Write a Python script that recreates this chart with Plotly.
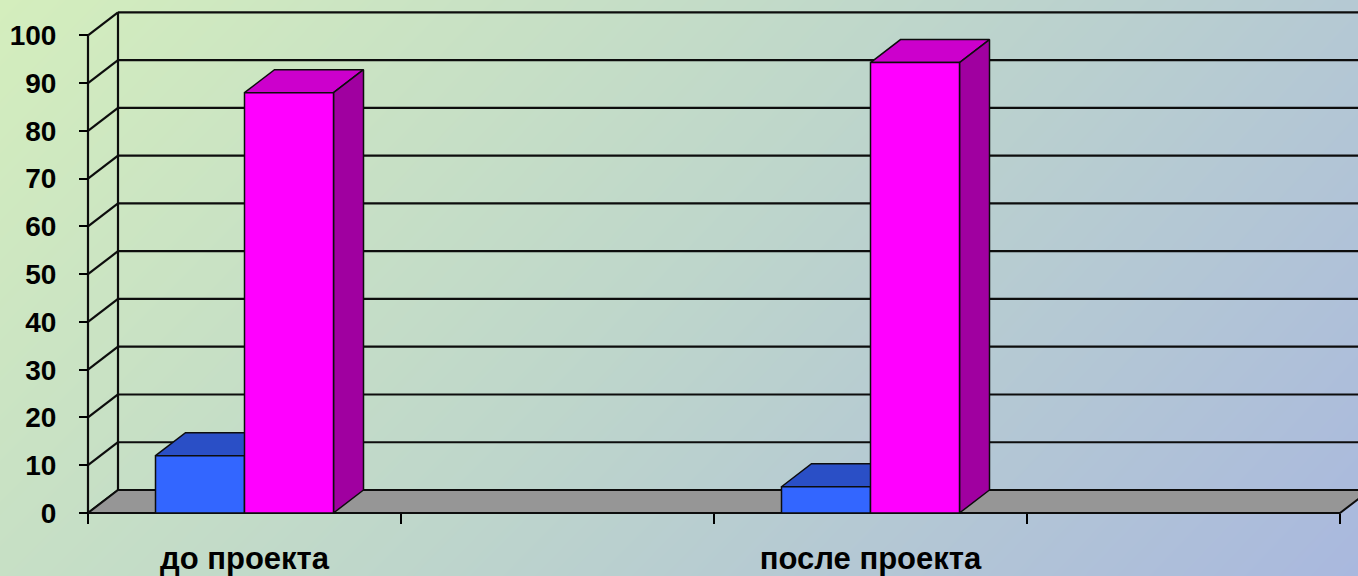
import plotly.graph_objects as go

# ---- data ----
categories = ["до проекта", "", "после проекта", ""]
series_blue = [12, None, 5.5, None]
series_magenta = [88, None, 94.3, None]
y_ticks = [0, 10, 20, 30, 40, 50, 60, 70, 80, 90, 100]

# ---- layout constants (pixels -> data units) ----
W, H = 1358, 576
PX_X = 313.0          # pixels per category slot
PX_Y = 4.776          # pixels per value unit
X0_PX, Y0_PX = 88, 513
DX = 30 / PX_X        # depth offset (x) in category units
DY = 23 / PX_Y        # depth offset (y) in value units
BAR_W = 89 / PX_X     # bar width in category units

dom_left_px, dom_bottom_px = 78, 530
x_range = [(dom_left_px - X0_PX) / PX_X, (W - X0_PX) / PX_X]
y_range = [(Y0_PX - dom_bottom_px) / PX_Y, Y0_PX / PX_Y]

n = len(categories)
ymax = max(y_ticks)

LINE = "#0d0d0d"
fig = go.Figure()

# ---- background gradient (on x/y, full paper) ----
fig.add_trace(go.Heatmap(
    x=[0, 1], y=[0, 1], z=[[0.3, 1.0], [0.0, 0.72]],
    colorscale=[[0, "#d4eebd"], [0.5, "#bed6cb"], [1, "#a9b8de"]],
    zsmooth="best", showscale=False, hoverinfo="skip",
    xaxis="x", yaxis="y",
))


def poly(xs, ys, fill, lw=1.5, color=LINE):
    fig.add_trace(go.Scatter(
        x=xs, y=ys, mode="lines", fill="toself" if fill else None,
        fillcolor=fill, line=dict(color=color, width=lw),
        hoverinfo="skip", showlegend=False, xaxis="x2", yaxis="y2",
    ))


def line(xs, ys, lw=2.2):
    fig.add_trace(go.Scatter(
        x=xs, y=ys, mode="lines", line=dict(color=LINE, width=lw),
        hoverinfo="skip", showlegend=False, xaxis="x2", yaxis="y2",
    ))


# back wall gridlines
for v in y_ticks:
    line([DX, n + DX], [v + DY, v + DY])
# back wall left edge
line([DX, DX], [DY, ymax + DY])
# left side wall: front vertical + diagonals
line([0, 0], [0, ymax])
for v in y_ticks:
    line([0, DX], [v, v + DY])

# floor
poly([0, n, n + DX, DX, 0], [0, 0, DY, DY, 0], "#969696", lw=2)

# bars
series = [
    (series_blue, "#3366ff", "#2a4fc6", "#1f3c9e"),
    (series_magenta, "#ff00ff", "#cc00cc", "#a000a0"),
]
for i in range(n):
    center = i + 0.5
    for k, (vals, front, top, side) in enumerate(series):
        v = vals[i]
        if v is None:
            continue
        x0 = center - BAR_W + k * BAR_W
        x1 = x0 + BAR_W
        # top face
        poly([x0, x1, x1 + DX, x0 + DX, x0], [v, v, v + DY, v + DY, v], top)
        # side face
        poly([x1, x1 + DX, x1 + DX, x1, x1], [0, DY, v + DY, v, 0], side)
        # front face
        poly([x0, x1, x1, x0, x0], [0, 0, v, v, 0], front)

yfont = dict(family="Liberation Sans, Arial, sans-serif", size=28, color="black", weight="bold")
xfont = dict(family="Liberation Sans, Arial, sans-serif", size=31, color="black", weight="bold")

fig.update_layout(
    width=W, height=H,
    margin=dict(l=0, r=0, t=0, b=0),
    paper_bgcolor="#c4dcc6",
    plot_bgcolor="rgba(0,0,0,0)",
    showlegend=False,
    xaxis=dict(domain=[0, 1], range=[0, 1], visible=False, fixedrange=True),
    yaxis=dict(domain=[0, 1], range=[0, 1], visible=False, fixedrange=True),
    xaxis2=dict(
        domain=[dom_left_px / W, 1], range=x_range,
        anchor="free", position=(H - Y0_PX) / H,
        tickmode="array", tickvals=[i + 0.5 for i in range(n)], ticktext=categories,
        ticks="", showgrid=False, zeroline=False, showline=False,
        tickfont=xfont, ticklabelstandoff=24,
        minor=dict(tickmode="array", tickvals=list(range(n + 1)), ticks="outside",
                   ticklen=10, tickwidth=1.5, tickcolor="black", showgrid=False),
    ),
    yaxis2=dict(
        domain=[(H - dom_bottom_px) / H, 1], range=y_range,
        anchor="free", position=X0_PX / W,
        tickmode="array", tickvals=y_ticks,
        ticks="outside", ticklen=9, tickwidth=1.5, tickcolor="black",
        showgrid=False, zeroline=False, showline=False,
        tickfont=yfont, ticklabelstandoff=17,
    ),
)

fig.write_html("out.html", config={"displayModeBar": False},
               post_script="document.body.style.margin='0';")
